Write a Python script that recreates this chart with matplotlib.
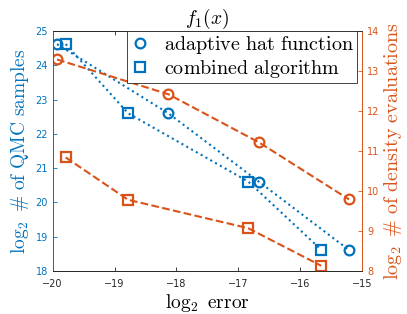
import matplotlib
matplotlib.use('Agg')
import matplotlib.pyplot as plt
from matplotlib.lines import Line2D

plt.rcParams['mathtext.fontset'] = 'cm'

blue = '#0072BD'
orange = '#D95319'

# log2 error
err_hat = [-19.93, -18.13, -16.67, -15.21]
err_comb = [-19.79, -18.78, -16.84, -15.66]
# log2 # of QMC samples (left axis)
qmc_hat = [24.62, 22.60, 20.61, 18.61]
qmc_comb = [24.62, 22.60, 20.61, 18.62]
# log2 # of density evaluations (right axis)
dens_hat = [13.29, 12.42, 11.22, 9.79]
dens_comb = [10.84, 9.78, 9.07, 8.13]

labels = ['adaptive hat function', 'combined algorithm']

fig = plt.figure(figsize=(4.07, 3.14), dpi=100)
ax = fig.add_axes([0.1295, 0.137, 0.76, 0.764])
ax2 = ax.twinx()

ax.plot(err_hat, qmc_hat, ':', color=blue, lw=1.5, marker='o', ms=7,
        mfc='none', mew=1.6)
ax.plot(err_comb, qmc_comb, ':', color=blue, lw=1.5, marker='s', ms=6.5,
        mfc='none', mew=1.6)
ax2.plot(err_hat, dens_hat, '--', color=orange, lw=1.5, marker='o', ms=7,
         mfc='none', mew=1.6)
ax2.plot(err_comb, dens_comb, '--', color=orange, lw=1.5, marker='s', ms=6.5,
         mfc='none', mew=1.6)

ax.set_xlim(-20, -15)
ax.set_ylim(18, 25)
ax2.set_ylim(8, 14)
ax.set_xticks(range(-20, -14))
ax.set_yticks(range(18, 26))
ax2.set_yticks(range(8, 15))

for a in (ax, ax2):
    for s in a.spines.values():
        s.set_linewidth(0.6)
        s.set_color('#262626')
    a.spines['left'].set_color(blue)
    a.spines['right'].set_color(orange)

ax.tick_params(axis='x', direction='in', top=True, labelsize=7, colors='#262626',
               length=3, width=0.6, pad=6)
ax.tick_params(axis='y', direction='in', labelsize=7, colors=blue, length=3, width=0.6)
ax2.tick_params(axis='y', direction='in', labelsize=7, colors=orange, length=3, width=0.6)

ax.set_xlabel(r'$\log_2\ \mathrm{error}$', fontsize=14, labelpad=2)
ax.set_ylabel(r'$\log_2\ \#\ \mathrm{of\ QMC\ samples}$', fontsize=14, color=blue, labelpad=3)
ax2.set_ylabel(r'$\log_2\ \#\ \mathrm{of\ density\ evaluations}$', fontsize=14.5,
               color=orange, labelpad=2)
ax.set_title(r'$f_1(x)$', fontsize=14, pad=4)

handles = [Line2D([], [], ls='none', marker='o', ms=7, mfc='none', mew=1.6, color=blue),
           Line2D([], [], ls='none', marker='s', ms=6.5, mfc='none', mew=1.6, color=blue)]
mlabels = [r'$\mathrm{' + s.replace(' ', r'\ ') + '}$' for s in labels]
leg = ax2.legend(handles, mlabels, loc='upper right', bbox_to_anchor=(0.985, 1.0),
                 fontsize=14.5, frameon=True, fancybox=False, edgecolor='#262626',
                 borderaxespad=0, framealpha=1, handlelength=1.0, handletextpad=0.7,
                 borderpad=0.15, labelspacing=0.1)
leg.get_frame().set_linewidth(0.6)

fig.savefig('out.png', dpi=100)
